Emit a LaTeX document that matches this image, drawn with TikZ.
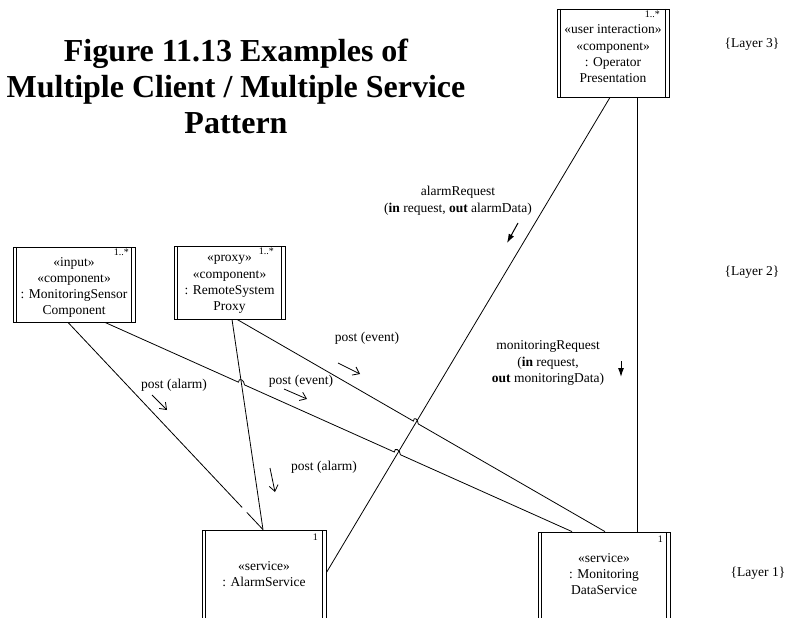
\documentclass[tikz,border=0pt]{standalone}
\usepackage{fontspec}
\setmainfont{Liberation Serif}
\usetikzlibrary{calc,arrows.meta}

\tikzset{
  umlbox/.style={draw, line width=0.8pt, inner sep=0pt,
    path picture={
      \draw[line width=0.8pt] ([xshift=3.2pt]path picture bounding box.north west) -- ([xshift=3.2pt]path picture bounding box.south west);
      \draw[line width=0.8pt] ([xshift=-3.2pt]path picture bounding box.north east) -- ([xshift=-3.2pt]path picture bounding box.south east);
    }},
  boxtext/.style={align=center, font=\fontsize{13.5}{16.3}\selectfont, inner sep=0pt},
  mult/.style={font=\fontsize{10}{11}\selectfont, inner sep=0pt},
  lbl/.style={align=center, font=\fontsize{13.5}{16.5}\selectfont, inner sep=0pt},
  layer/.style={font=\fontsize{13.5}{16}\selectfont, inner sep=0pt},
  title/.style={align=center, font=\bfseries\fontsize{32}{36}\selectfont, inner sep=0pt},
  conn/.style={line width=0.8pt},
  flow/.style={line width=0.8pt, -{Straight Barb[length=6pt,width=9pt]}},
  req/.style={line width=1pt, -{Latex[length=9pt,width=6pt]}},
}
% small hop over a crossing line, at fraction #1 of the segment (#2)--(#3)
\newcommand{\hopat}[3]{-- ($(#2)!#1-0.0065!(#3)$) .. controls +(0,-5) and +(0,-5) .. ($(#2)!#1+0.0065!(#3)$)}

\begin{document}
\begin{tikzpicture}[x=1pt, y=-1pt]
\useasboundingbox (0,0) rectangle (790,618);
\clip (0,0) rectangle (790,618);

% title
\node[title] (title) at (236,86) {Figure 11.13 Examples of\\Multiple Client / Multiple Service\\Pattern};

% layer tags
\node[layer] (layer3) at (752,44) {\{Layer 3\}};
\node[layer] (layer2) at (752,272) {\{Layer 2\}};
\node[layer] (layer1) at (758,573) {\{Layer 1\}};

% components
\node[umlbox, minimum width=112pt, minimum height=88pt] (op) at (613,53) {};
\node[boxtext] (op-txt) at (613,54) {«user interaction»\\«component»\\: Operator\\Presentation};
\node[mult, anchor=north east] (op-m) at (660,11) {1..*};

\node[umlbox, minimum width=122pt, minimum height=75pt] (ms) at (74,284.5) {};
\node[boxtext] (ms-txt) at (74,287.5) {«input»\\«component»\\: MonitoringSensor\\Component};
\node[mult, anchor=north east] (ms-m) at (129,249) {1..*};

\node[umlbox, minimum width=111pt, minimum height=73pt] (rsp) at (229.5,282.5) {};
\node[boxtext] (rsp-txt) at (229.5,284.5) {«proxy»\\«component»\\: RemoteSystem\\Proxy};
\node[mult, anchor=north east] (rsp-m) at (274,248) {1..*};

\node[umlbox, minimum width=124pt, minimum height=110pt] (as) at (264,585) {};
\node[boxtext] (as-txt) at (264,574) {«service»\\: AlarmService};
\node[mult, anchor=north east] (as-m) at (318,534) {1};

\node[umlbox, minimum width=132pt, minimum height=108pt] (mds) at (604,586) {};
\node[boxtext] (mds-txt) at (604,574) {«service»\\: Monitoring\\DataService};
\node[mult, anchor=north east] (mds-m) at (663,536) {1};

% connector ports on the component borders
\coordinate (ms-l)   at ([xshift=-6pt]ms.south);
\coordinate (ms-r)   at ([xshift=31pt]ms.south);
\coordinate (rsp-l)  at ([xshift=2.5pt]rsp.south);
\coordinate (rsp-r)  at ([xshift=7.5pt]rsp.south);
\coordinate (op-l)   at ([xshift=-3pt]op.south);
\coordinate (op-r)   at ([xshift=24pt]op.south);
\coordinate (as-t)   at ([xshift=-1pt]as.north);
\coordinate (as-e)   at ([yshift=-43pt]as.north east);
\coordinate (mds-t1) at ([xshift=-32pt]mds.north);
\coordinate (mds-t2) at ([xshift=1pt]mds.north);
\coordinate (mds-t3) at ([xshift=33pt]mds.north);

% connectors
\draw[conn] (op-l) -- (as-e);
\draw[conn] (op-r) -- (mds-t3);
\draw[conn] (rsp-l) -- (as-t);
\draw[conn] (ms-l) -- ($(ms-l)!0.893!(as-t)$);
\draw[conn] ($(ms-l)!0.917!(as-t)$) -- (as-t);
\draw[conn] (ms-r) \hopat{0.2922}{ms-r}{mds-t1} \hopat{0.626}{ms-r}{mds-t1} -- (mds-t1);
\draw[conn] (rsp-r) \hopat{0.4859}{rsp-r}{mds-t2} -- (mds-t2);

% message labels
\node[lbl] (ar) at (458,201) {alarmRequest\\(\textbf{in} request, \textbf{out} alarmData)};
\node[lbl] (mr) at (548,363) {monitoringRequest\\(\textbf{in} request,\\\textbf{out} monitoringData)};
\node[lbl] (pe1) at (367,338) {post (event)};
\node[lbl] (pe2) at (301,381) {post (event)};
\node[lbl] (pa1) at (174,385) {post (alarm)};
\node[lbl] (pa2) at (324,467) {post (alarm)};

% message direction arrows
\draw[req] (518,223) -- (507,243);
\draw[req] (621,361) -- (621,377);
\draw[flow] (338,363) -- (360,374);
\draw[flow] (284,389) -- (307,399);
\draw[flow] (152,395) -- (167,410);
\draw[flow] (270,468) -- (275,492);
\end{tikzpicture}
\end{document}
